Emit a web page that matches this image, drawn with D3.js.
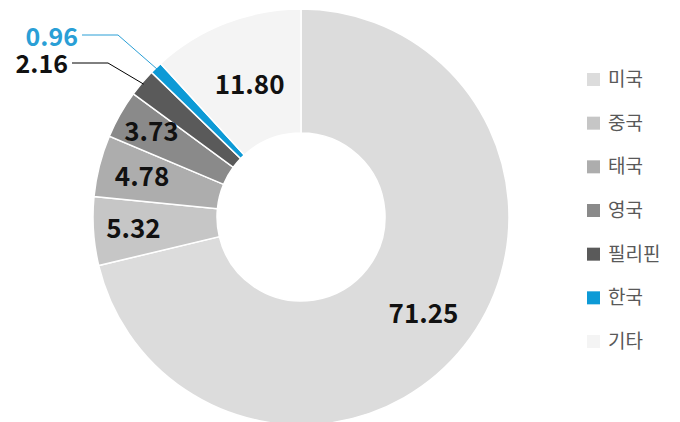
<!DOCTYPE html>
<html>
<head>
<meta charset="utf-8">
<script src="https://cdn.jsdelivr.net/npm/d3@7"></script>
<style>
  body { margin: 0; background: #fff; }
  svg { display: block; font-family: "Noto Sans CJK KR", "Noto Sans", sans-serif; }
</style>
</head>
<body>
<svg id="vis" width="680" height="422"></svg>
<script>
// data (share, %)
const countries = ["미국", "중국", "태국", "영국", "필리핀", "한국", "기타"];
const shares = [71.25, 5.32, 4.78, 3.73, 2.16, 0.96, 11.80];
const colors = ["#dcdcdc", "#c6c6c6", "#adadad", "#8a8a8a", "#5a5a5a", "#0d9ad6", "#f4f4f4"];

const svg = d3.select("svg#vis");

const cx = 301, cy = 217;
const outer = 208, inner = 84;

const rows = countries.map((c, i) => ({ name: c, value: shares[i], color: colors[i] }));

const pie = d3.pie().sort(null).value(d => d.value);
const arcs = pie(rows);

const arc = d3.arc().innerRadius(inner).outerRadius(outer);

const g = svg.append("g").attr("transform", `translate(${cx},${cy})`);

g.selectAll("path.slice")
  .data(arcs)
  .enter()
  .append("path")
  .attr("class", "slice")
  .attr("d", arc)
  .attr("fill", d => d.data.color)
  .attr("stroke", "#fff")
  .attr("stroke-width", 1.5);

// label radius per slice (excel best fit puts them a bit differently)
const labelR = [156, 168, 164, 172, 0, 0, 142];
const leader = { 4: { ex: 108, ey: 63, dy: 10 }, 5: { ex: 118, ey: 35, dy: 11 } };

arcs.forEach(function(d, i) {
  const txt = d.data.value.toFixed(2);
  if (leader[i]) {
    const p = d3.arc().innerRadius(outer - 2).outerRadius(outer - 2).centroid(d);
    const sx = p[0] + cx, sy = p[1] + cy;
    const e = leader[i];
    const stroke = i === 5 ? "#2a9fd6" : "#000";
    svg.append("polyline")
      .attr("points", `${sx},${sy} ${e.ex},${e.ey} ${e.ex - 36},${e.ey}`)
      .attr("fill", "none")
      .attr("stroke", stroke)
      .attr("stroke-width", 1);
    svg.append("text")
      .attr("x", e.ex - 40)
      .attr("y", e.ey + e.dy)
      .attr("text-anchor", "end")
      .attr("font-size", 25)
      .attr("font-weight", 700)
      .attr("fill", i === 5 ? "#2a9fd6" : "#111")
      .text(txt);
  } else {
    const c = d3.arc().innerRadius(labelR[i]).outerRadius(labelR[i]).centroid(d);
    g.append("text")
      .attr("x", c[0])
      .attr("y", c[1] + 9)
      .attr("text-anchor", "middle")
      .attr("font-size", 26)
      .attr("font-weight", 700)
      .attr("fill", "#111")
      .text(txt);
  }
});

// legend
const ly = d3.scalePoint().domain(countries).range([79, 341]);
const legend = svg.append("g").selectAll("g.item")
  .data(rows)
  .enter()
  .append("g")
  .attr("class", "item")
  .attr("transform", d => `translate(587,${ly(d.name)})`);

legend.append("rect")
  .attr("x", 0)
  .attr("y", -6)
  .attr("width", 13)
  .attr("height", 13)
  .attr("fill", d => d.color);

legend.append("text")
  .attr("x", 21)
  .attr("y", 7)
  .attr("font-size", 19)
  .attr("fill", "#595959")
  .text(d => d.name);
</script>
</body>
</html>
